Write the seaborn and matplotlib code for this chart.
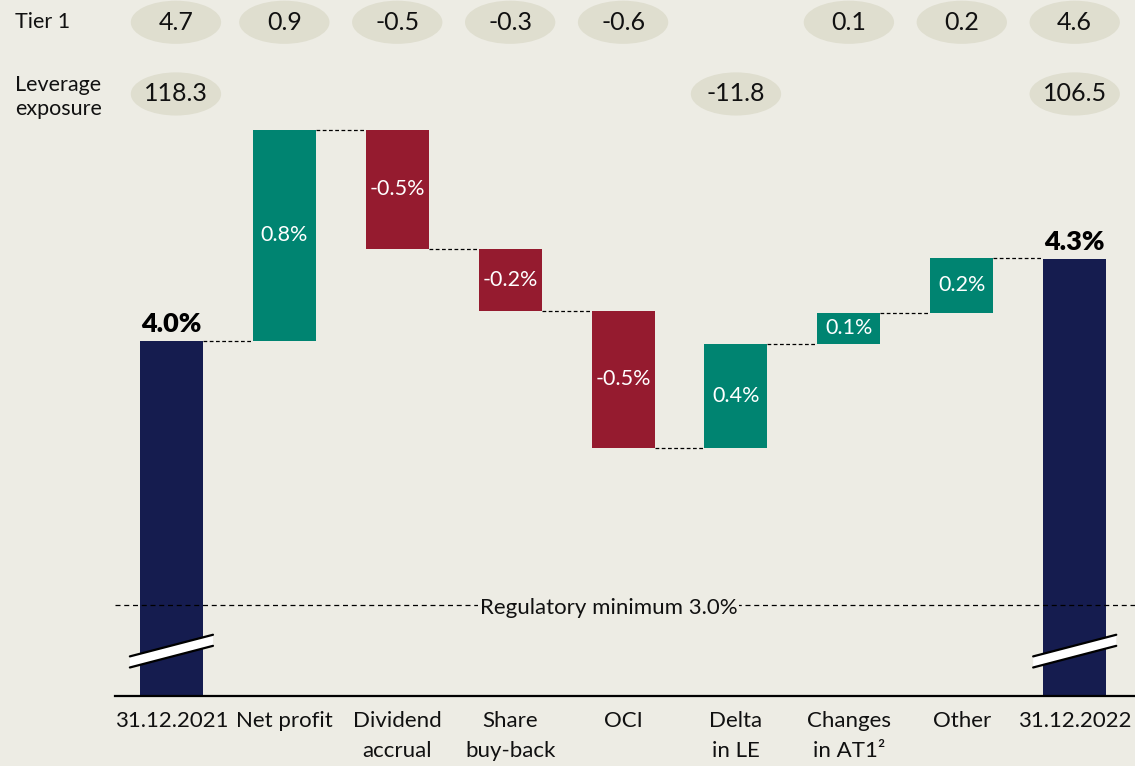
import numpy as np
import matplotlib
matplotlib.use("Agg")
import matplotlib.pyplot as plt
import matplotlib.transforms as mtransforms
from matplotlib.patches import Ellipse, Polygon
import seaborn as sns

# values
categories = ["31.12.2021", "Net profit", "Dividend\naccrual", "Share\nbuy-back", "OCI",
              "Delta\nin LE", "Changes\nin AT1²", "Other", "31.12.2022"]
start_ratio = 4.0
end_ratio = 4.31
changes = [0.80, -0.45, -0.235, -0.52, 0.395, 0.117, 0.208]
value_labels = ["4.0%", "0.8%", "-0.5%", "-0.2%", "-0.5%", "0.4%", "0.1%", "0.2%", "4.3%"]
tier1 = ["4.7", "0.9", "-0.5", "-0.3", "-0.6", "", "0.1", "0.2", "4.6"]
leverage = ["118.3", "", "", "", "", "-11.8", "", "", "106.5"]
reg_min = 3.0

BG = "#EDECE4"
NAVY = "#151C4F"
GREEN = "#008471"
RED = "#951B2F"
PILL = "#DFDECF"

sns.set_theme(style="white", rc={"axes.facecolor": BG, "figure.facecolor": BG})
plt.rcParams["font.family"] = ["Lato", "DejaVu Sans"]

# waterfall geometry
levels = start_ratio + np.concatenate([[0], np.cumsum(changes)])
bottoms = [0.0]
spans = [start_ratio]
colors = [NAVY]
for i, d in enumerate(changes):
    bottoms.append(min(levels[i], levels[i + 1]))
    spans.append(abs(d))
    colors.append(GREEN if d > 0 else RED)
bottoms.append(0.0)
spans.append(end_ratio)
colors.append(NAVY)
tops = [b + s for b, s in zip(bottoms, spans)]

fig = plt.figure(figsize=(11.35, 7.66), dpi=100)
ax = fig.add_axes([0.1013, 0.0914, 0.8987, 0.9086])

bar_w = 0.558
sns.barplot(x=categories, y=spans, bottom=bottoms, width=bar_w, color=NAVY,
            saturation=1, linewidth=0, ax=ax, zorder=2)
for patch, c in zip(ax.patches, colors):
    patch.set_facecolor(c)
    patch.set_edgecolor(c)

ax.set_xlim(-0.5, 8.534)
ax.set_ylim(2.655, 5.292)

# connectors
conn = [start_ratio] + list(levels[1:])
for i in range(len(categories) - 1):
    y = conn[i]
    ax.plot([i + bar_w / 2, i + 1 - bar_w / 2], [y, y], color="black", lw=0.9,
            ls=(0, (3, 2)), zorder=1)

# value labels
n = len(categories)
for i, lab in enumerate(value_labels):
    if i in (0, n - 1):
        ax.text(i, tops[i] + 0.018, lab, ha="center", va="bottom", fontsize=19.5,
                fontweight="heavy", color="black", zorder=4)
    else:
        ax.text(i, bottoms[i] + spans[i] / 2, lab, ha="center", va="center",
                fontsize=15.5, color="white", zorder=4)

# regulatory minimum
ax.axhline(reg_min, color="black", lw=0.9, ls=(0, (4, 3)), zorder=3)
ax.text(3.87, reg_min - 0.012, "Regulatory minimum 3.0%", ha="center", va="center",
        fontsize=16, color="#111111", zorder=4,
        bbox=dict(facecolor=BG, edgecolor="none", pad=1))

# axis break marks
for i in (0, n - 1):
    x0, x1 = i - 0.368, i + 0.368
    yl, yr, h = 2.784, 2.866, 0.021
    poly = Polygon([[x0, yl - h], [x1, yr - h], [x1, yr + h], [x0, yl + h]],
                   closed=True, facecolor="white", edgecolor="none", zorder=5)
    ax.add_patch(poly)
    ax.plot([x0, x1], [yl + h, yr + h], color="black", lw=1.6, zorder=6)
    ax.plot([x0, x1], [yl - h, yr - h], color="black", lw=1.6, zorder=6)

# pill rows on top
blend = mtransforms.blended_transform_factory(ax.transData, ax.transAxes)
for row, yy in ((tier1, 0.968), (leverage, 0.865)):
    for i, v in enumerate(row):
        if not v:
            continue
        dx = 0.04 if i == 0 else 0.0
        ax.add_patch(Ellipse((i + dx, yy), 0.8, 0.062, transform=blend,
                             facecolor=PILL, edgecolor="none", clip_on=False, zorder=3))
        ax.text(i + dx, yy, v, transform=blend, ha="center", va="center",
                fontsize=18, color="#111111", zorder=4)

fig.text(15 / 1135, 1 - 22 / 766, "Tier 1", ha="left", va="center", fontsize=15.5,
         color="#111111")
fig.text(15 / 1135, 1 - 97 / 766, "Leverage\nexposure", ha="left", va="center",
         fontsize=15.5, color="#111111", linespacing=1.3)

ax.set_xticks(range(n))
ax.set_xticklabels(categories, fontsize=16, color="#111111", linespacing=1.6)
ax.tick_params(axis="x", length=0, pad=11)
ax.set_yticks([])
ax.set_xlabel("")
ax.set_ylabel("")
for side in ("top", "left", "right"):
    ax.spines[side].set_visible(False)
ax.spines["bottom"].set_color("black")
ax.spines["bottom"].set_linewidth(1.6)

fig.savefig("out.png", dpi=100, facecolor=BG)
